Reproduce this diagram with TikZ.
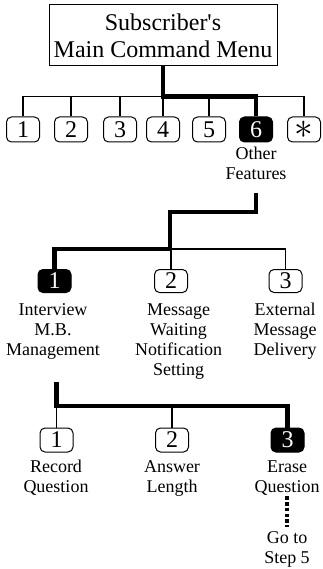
\documentclass[tikz,border=0pt]{standalone}
\usepackage{fontspec}
\setmainfont{Liberation Serif}
\begin{document}
\begin{tikzpicture}[x=1pt,y=-1pt,
  thinline/.style={line width=1.1pt},
  trunk/.style={line width=4.5pt},
  dotted trunk/.style={line width=4.5pt, dash pattern=on 3.6pt off 2.2pt},
  key/.style={draw, line width=1pt, rounded corners=5pt, minimum width=33pt, minimum height=24pt, inner sep=0pt, font=\fontsize{24}{24}\selectfont},
  selkey/.style={key, fill=black, text=white},
  lbl/.style={align=center, anchor=base, inner sep=0pt, font=\fontsize{18}{20}\selectfont},
  ]
\useasboundingbox (0,0) rectangle (322,569);

% main menu
\node[draw, line width=1pt, minimum width=228pt, minimum height=61pt, inner sep=0pt, align=center, font=\fontsize{24}{27}\selectfont] (menu) at (163,35.5) {Subscriber\textquotesingle s\\Main Command Menu};

% first level keys
\node[key, minimum height=25pt] (k1) at (23,129.5) {1};
\node[key, minimum height=25pt] (k2) at (71,129.5) {2};
\node[key, minimum height=25pt] (k3) at (120,129.5) {3};
\node[key, minimum height=25pt] (k4) at (163,129.5) {4};
\node[key, minimum height=25pt] (k5) at (209,129.5) {5};
\node[selkey, minimum height=25pt] (k6) at (256,129.5) {6};
\node[key, minimum height=25pt] (kstar) at (304,129.5) {\scalebox{1.5}{$\ast$}};
\coordinate (bus1) at (163,96.5);
\draw[thinline] (k1.north) -- (k1.north |- bus1) -- (kstar.north |- bus1) -- (kstar.north);
\foreach \k in {k2,k3,k4,k5,k6} \draw[thinline] (\k.north) -- (\k.north |- bus1);
\draw[trunk] (menu.south) -- (bus1) -| (k6.north);
\node[lbl] (other) at (256,180) {Other\\Features};

% second level
\coordinate (t2top) at (256,193);
\coordinate (elbow2) at (170,212);
\coordinate (bus2) at (170,249);
\node[selkey, minimum height=23pt] (s1) at (54.5,281) {1};
\node[key, minimum height=23pt] (s2) at (171,281) {2};
\node[key, minimum height=23pt] (s3) at (285.5,281) {3};
\draw[thinline] (s2.north) -- (s2.north |- bus2) -- (s3.north |- bus2) -- (s3.north);
\draw[trunk] (t2top) |- (elbow2) -- (bus2) -| (s1.north);
\node[lbl] (l21) at (53,355) {Interview\\M.B.\\Management};
\node[lbl] (l22) at (178.5,375) {Message\\Waiting\\Notification\\Setting};
\node[lbl] (l23) at (285,355) {External\\Message\\Delivery};

% third level
\coordinate (t3top) at (56.5,382);
\coordinate (bus3) at (56.5,406);
\node[key] (u1) at (56.5,440) {1};
\node[key] (u2) at (172,440) {2};
\node[selkey] (u3) at (287.5,440) {3};
\draw[trunk] (t3top) -- (bus3) -| (u3.north);
\draw[thinline] (bus3) -- (u1.north);
\draw[thinline] (u2.north) -- (u2.north |- bus3);
\node[lbl] (l31) at (56,492) {Record\\Question};
\node[lbl] (l32) at (172,492) {Answer\\Length};
\node[lbl] (l33) at (287,492) {Erase\\Question};
\node[lbl] (goto) at (287,563) {Go to\\Step 5};
\draw[dotted trunk] ([yshift=-1pt]l33.south) -- ([yshift=4pt]goto.north);
\end{tikzpicture}
\end{document}
